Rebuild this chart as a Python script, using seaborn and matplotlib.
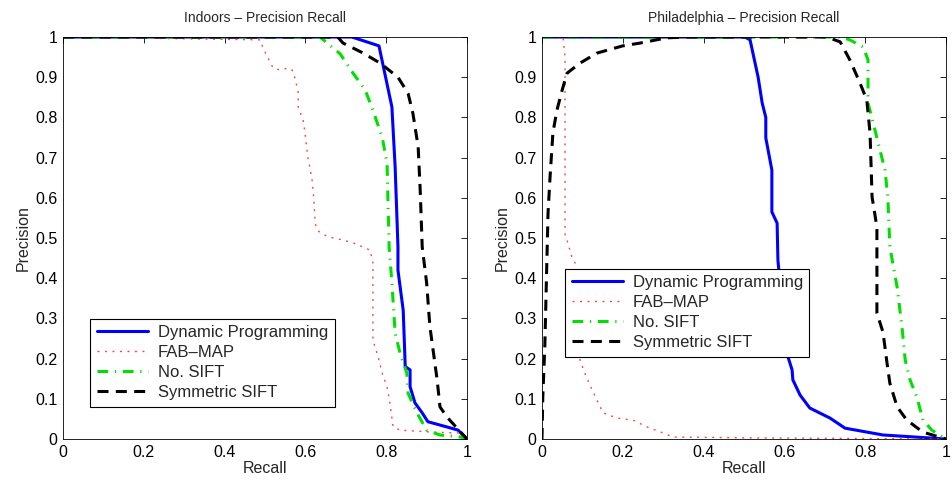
import numpy as np
import pandas as pd
import matplotlib
matplotlib.use('Agg')
import matplotlib.pyplot as plt
from matplotlib.ticker import FormatStrFormatter, MultipleLocator
import seaborn as sns

# Indoors - precision/recall curves
in_dp_recall = [0, 0.715, 0.782, 0.814, 0.822, 0.829, 0.829, 0.842, 0.847, 0.859, 0.859, 0.871, 0.889, 0.903, 0.95, 0.978, 1.0]
in_dp_prec = [1, 1, 0.978, 0.826, 0.677, 0.478, 0.42, 0.32, 0.18, 0.172, 0.13, 0.09, 0.065, 0.043, 0.03, 0.022, 0.0]

in_fab_recall = [0, 0.488, 0.495, 0.512, 0.52, 0.537, 0.557, 0.567, 0.574, 0.582, 0.582, 0.594, 0.599, 0.606, 0.616, 0.621,
                 0.624, 0.629, 0.641, 0.661, 0.693, 0.718, 0.76, 0.767, 0.767, 0.78, 0.79, 0.802, 0.809, 0.817, 0.834,
                 0.916, 0.983, 1.0]
in_fab_prec = [1, 0.993, 0.973, 0.938, 0.923, 0.918, 0.923, 0.918, 0.898, 0.863, 0.826, 0.794, 0.761, 0.70, 0.649, 0.595,
               0.537, 0.52, 0.51, 0.502, 0.495, 0.488, 0.47, 0.438, 0.246, 0.204, 0.164, 0.129, 0.09, 0.03, 0.022,
               0.017, 0.015, 0.0]

in_nosift_recall = [0, 0.636, 0.686, 0.718, 0.748, 0.767, 0.79, 0.802, 0.804, 0.807, 0.807, 0.814, 0.822, 0.834, 0.851,
                    0.854, 0.876, 0.9, 0.933, 0.983, 1.0]
in_nosift_prec = [1, 1, 0.958, 0.91, 0.868, 0.818, 0.75, 0.686, 0.60, 0.487, 0.478, 0.388, 0.264, 0.214, 0.164,
                  0.114, 0.065, 0.022, 0.01, 0.005, 0.0]

in_sym_recall = [0, 0.68, 0.693, 0.743, 0.785, 0.829, 0.854, 0.866, 0.879, 0.884, 0.889, 0.9, 0.908, 0.926, 0.933,
                 0.95, 0.995, 1.0]
in_sym_prec = [1, 1, 0.985, 0.96, 0.935, 0.90, 0.86, 0.81, 0.727, 0.62, 0.478, 0.388, 0.28, 0.147, 0.08,
               0.055, 0.005, 0.0]

# Philadelphia - precision/recall curves
ph_dp_recall = [0, 0.502, 0.515, 0.535, 0.545, 0.554, 0.554, 0.569, 0.569, 0.582, 0.584, 0.601, 0.609, 0.619, 0.621,
                0.639, 0.663, 0.713, 0.75, 0.844, 1.0]
ph_dp_prec = [1, 1, 0.993, 0.90, 0.836, 0.80, 0.749, 0.669, 0.565, 0.537, 0.445, 0.254, 0.204, 0.172, 0.147,
              0.109, 0.077, 0.052, 0.027, 0.01, 0.0]

ph_fab_recall = [0, 0.052, 0.057, 0.057, 0.062, 0.074, 0.082, 0.094, 0.106, 0.124, 0.136, 0.151, 0.186, 0.225, 0.26,
                 0.3, 0.324, 0.5, 1.0]
ph_fab_prec = [1, 1, 0.95, 0.51, 0.495, 0.453, 0.438, 0.197, 0.164, 0.122, 0.097, 0.065, 0.052, 0.047, 0.03,
               0.015, 0.005, 0.003, 0.0]

ph_nosift_recall = [0, 0.74, 0.762, 0.795, 0.807, 0.807, 0.824, 0.849, 0.856, 0.861, 0.879, 0.891, 0.899, 0.911,
                    0.928, 0.943, 0.965, 1.0]
ph_nosift_prec = [1, 1, 0.993, 0.975, 0.943, 0.836, 0.769, 0.669, 0.602, 0.478, 0.378, 0.279, 0.197, 0.147,
                  0.104, 0.047, 0.022, 0.0]

ph_sym_recall = [0, 0.002, 0.007, 0.012, 0.015, 0.02, 0.027, 0.037, 0.05, 0.062, 0.094, 0.136, 0.2, 0.243, 0.309,
                 0.359, 0.705, 0.738, 0.762, 0.787, 0.804, 0.812, 0.817, 0.829, 0.829, 0.844, 0.854, 0.861, 0.879,
                 0.903, 0.943, 1.0]
ph_sym_prec = [0, 0.104, 0.229, 0.438, 0.562, 0.652, 0.761, 0.818, 0.868, 0.91, 0.935, 0.96, 0.978, 0.985, 0.998,
               1.0, 1.0, 0.988, 0.943, 0.886, 0.843, 0.761, 0.602, 0.527, 0.313, 0.266, 0.189, 0.139, 0.08,
               0.047, 0.017, 0.0]

method_names = ['Dynamic Programming', 'FAB\u2013MAP', 'No. SIFT', 'Symmetric SIFT']
panel_titles = ['Indoors \u2013 Precision Recall', 'Philadelphia \u2013 Precision Recall']

sns.set_theme(style='white')
plt.rcParams['font.family'] = ['Liberation Sans', 'DejaVu Sans']

# line styles per method (MATLAB-like look)
styles = [
    dict(color='#0000ff', lw=2.2, linestyle='-'),
    dict(color='#ff4040', lw=1.0, linestyle=(0, (1.4, 4.0))),
    dict(color='#00e000', lw=2.2, linestyle=(0, (3.5, 2.2, 0.4, 2.2))),
    dict(color='black', lw=2.2, linestyle=(0, (3.6, 2.4))),
]

panels = [
    [(in_dp_recall, in_dp_prec), (in_fab_recall, in_fab_prec),
     (in_nosift_recall, in_nosift_prec), (in_sym_recall, in_sym_prec)],
    [(ph_dp_recall, ph_dp_prec), (ph_fab_recall, ph_fab_prec),
     (ph_nosift_recall, ph_nosift_prec), (ph_sym_recall, ph_sym_prec)],
]
legend_anchor = [(0.067, 0.08), (0.057, 0.204)]

fig = plt.figure(figsize=(9.52, 4.91), dpi=100)
axes = [fig.add_axes([0.0662, 0.1059, 0.4244, 0.8187]),
        fig.add_axes([0.5693, 0.1059, 0.4244, 0.8187])]

for ax, curves, title, anchor in zip(axes, panels, panel_titles, legend_anchor):
    for (rec, prec), name, st in zip(curves, method_names, styles):
        df = pd.DataFrame({'Recall': rec, 'Precision': prec})
        sns.lineplot(data=df, x='Recall', y='Precision', sort=False, estimator=None,
                     ax=ax, label=name, **st)
    ax.set_xlim(0, 1)
    ax.set_ylim(0, 1)
    ax.xaxis.set_major_locator(MultipleLocator(0.2))
    ax.yaxis.set_major_locator(MultipleLocator(0.1))
    ax.xaxis.set_major_formatter(FormatStrFormatter('%g'))
    ax.yaxis.set_major_formatter(FormatStrFormatter('%g'))
    ax.tick_params(direction='in', length=4, width=0.6, top=True, right=True,
                   labelsize=11.5, colors='black', pad=4)
    for sp in ax.spines.values():
        sp.set_color('black')
        sp.set_linewidth(0.6)
    ax.set_xlabel('Recall', fontsize=11.5, labelpad=1)
    ax.set_ylabel('Precision', fontsize=11.5, labelpad=3)
    ax.set_title(title, fontsize=10, pad=11)
    leg = ax.legend(loc='lower left', bbox_to_anchor=anchor, fontsize=12, frameon=True,
                    fancybox=False, framealpha=1, edgecolor='black', handlelength=3.1,
                    labelspacing=0.3, borderpad=0.4, handletextpad=0.55, borderaxespad=0)
    leg.get_frame().set_linewidth(0.8)

fig.savefig('out.png', dpi=100)
